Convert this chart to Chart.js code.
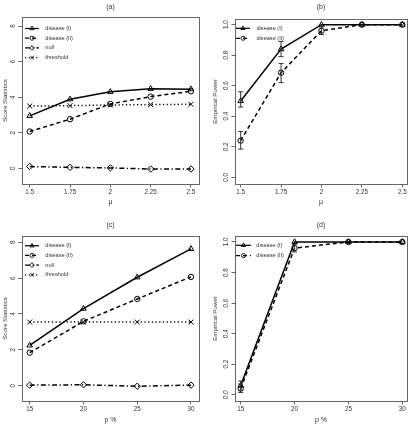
<!DOCTYPE html>
<html><head><meta charset="utf-8">
<script src="https://cdn.jsdelivr.net/npm/chart.js@4.4.1/dist/chart.umd.min.js"></script>
<style>
html,body{margin:0;padding:0;background:#fff;}
#wrap{position:relative;width:413px;height:426px;overflow:hidden;background:#fff;}
canvas{position:absolute;display:block;}
</style></head><body>
<div id="wrap">
<canvas id="ca" width="206" height="213" style="left:0;top:0"></canvas>
<canvas id="cb" width="207" height="213" style="left:206px;top:0"></canvas>
<canvas id="cc" width="206" height="213" style="left:0;top:213px"></canvas>
<canvas id="cd" width="207" height="213" style="left:206px;top:213px"></canvas>
</div>
<script>
// ---------- data ----------
const muValues = [1.5, 1.75, 2, 2.25, 2.5];
const muTickLabels = ["1.5", "1.75", "2", "2.25", "2.5"];
const pValues = [15, 20, 25, 30];
const pTickLabels = ["15", "20", "25", "30"];
const scoreTicks = [0, 2, 4, 6, 8];
const scoreTickLabels = ["0", "2", "4", "6", "8"];
const powerTicks = [0, 0.2, 0.4, 0.6, 0.8, 1.0];
const powerTickLabels = ["0.0", "0.2", "0.4", "0.6", "0.8", "1.0"];
const seriesNames = ["disease (I)", "disease (II)", "null", "threshold"];

// panel (a): score statistics vs mu
const aDisease1 = [2.95, 3.88, 4.30, 4.47, 4.45];
const aDisease2 = [2.07, 2.76, 3.62, 4.03, 4.33];
const aNull = [0.10, 0.05, 0.02, -0.04, -0.04];
const aThreshold = [3.50, 3.52, 3.56, 3.58, 3.60];

// panel (b): empirical power vs mu (with intervals)
const bDisease1 = [0.50, 0.84, 1.00, 1.00, 1.00];
const bDisease1Lo = [0.46, 0.79, 1.00, 1.00, 1.00];
const bDisease1Hi = [0.56, 0.89, 1.00, 1.00, 1.00];
const bDisease2 = [0.24, 0.685, 0.96, 1.00, 1.00];
const bDisease2Lo = [0.185, 0.62, 0.935, 1.00, 1.00];
const bDisease2Hi = [0.30, 0.745, 0.985, 1.00, 1.00];

// panel (c): score statistics vs p %
const cDisease1 = [2.25, 4.30, 6.05, 7.63];
const cDisease2 = [1.84, 3.59, 4.84, 6.07];
const cNull = [0.03, 0.05, -0.03, 0.03];
const cThreshold = [3.55, 3.55, 3.55, 3.55];

// panel (d): empirical power vs p %
const dDisease1 = [0.06, 1.00, 1.00, 1.00];
const dDisease1Lo = [0.03, 1.00, 1.00, 1.00];
const dDisease1Hi = [0.09, 1.00, 1.00, 1.00];
const dDisease2 = [0.04, 0.96, 1.00, 1.00];
const dDisease2Lo = [0.015, 0.935, 1.00, 1.00];
const dDisease2Hi = [0.07, 0.985, 1.00, 1.00];

// ---------- styling ----------
const FONT = "'Liberation Sans', Arial, Helvetica, sans-serif";
const TEXT = '#333';
const AXIS = '#666';
const LINE = '#000';
const styles = [
  {borderDash: [], pointStyle: 'triangle', pointRadius: 3.2},
  {borderDash: [4, 3], pointStyle: 'circle', pointRadius: 2.7},
  {borderDash: [5, 2.5, 1.2, 2.5], pointStyle: 'rectRot', pointRadius: 3.2},
  {borderDash: [1.2, 2.5], pointStyle: 'crossRot', pointRadius: 3.5}
];

function series(k, xs, ys, lo, hi) {
  const s = styles[k];
  return {
    label: seriesNames[k],
    data: xs.map((x, i) => ({x: x, y: ys[i]})),
    borderColor: LINE, borderWidth: 1.5, borderDash: s.borderDash,
    pointStyle: s.pointStyle, pointRadius: s.pointRadius,
    pointBorderColor: LINE, pointBackgroundColor: 'rgba(0,0,0,0)', pointBorderWidth: 1,
    tension: 0, fill: false,
    errLo: lo, errHi: hi
  };
}

function drawMarker(ctx, style, x, y, r) {
  ctx.beginPath();
  if (style === 'triangle') {
    ctx.moveTo(x, y - r);
    ctx.lineTo(x + r * Math.sin(2 * Math.PI / 3), y + r * 0.5);
    ctx.lineTo(x - r * Math.sin(2 * Math.PI / 3), y + r * 0.5);
    ctx.closePath();
  } else if (style === 'circle') {
    ctx.arc(x, y, r, 0, Math.PI * 2);
  } else if (style === 'rectRot') {
    ctx.moveTo(x, y - r); ctx.lineTo(x + r, y); ctx.lineTo(x, y + r); ctx.lineTo(x - r, y); ctx.closePath();
  } else if (style === 'crossRot') {
    const d = r * Math.SQRT1_2;
    ctx.moveTo(x - d, y - d); ctx.lineTo(x + d, y + d);
    ctx.moveTo(x + d, y - d); ctx.lineTo(x - d, y + d);
  }
  ctx.stroke();
}

const rPlugin = {
  id: 'rdeco',
  afterDatasetsDraw(chart, args, o) {
    const ctx = chart.ctx, xs = chart.scales.x, ys = chart.scales.y;
    ctx.save();
    ctx.strokeStyle = '#333'; ctx.lineWidth = 1; ctx.setLineDash([]);
    const cap = 2.5;
    chart.data.datasets.forEach(ds => {
      if (!ds.errLo) return;
      ds.data.forEach((p, i) => {
        const lo = ds.errLo[i], hi = ds.errHi[i];
        if (hi - lo < 0.001) return;
        const px = xs.getPixelForValue(p.x), pl = ys.getPixelForValue(lo), ph = ys.getPixelForValue(hi);
        ctx.beginPath();
        ctx.moveTo(px, pl); ctx.lineTo(px, ph);
        ctx.moveTo(px - cap, pl); ctx.lineTo(px + cap, pl);
        ctx.moveTo(px - cap, ph); ctx.lineTo(px + cap, ph);
        ctx.stroke();
      });
    });
    ctx.restore();
  },
  afterDraw(chart, args, o) {
    const ctx = chart.ctx, a = chart.chartArea;
    ctx.save();
    // box
    const al = v => Math.round(v - 0.5) + 0.5;
    ctx.strokeStyle = AXIS; ctx.lineWidth = 1; ctx.setLineDash([]);
    ctx.strokeRect(al(a.left), al(a.top), al(a.right) - al(a.left), al(a.bottom) - al(a.top));
    // title
    ctx.fillStyle = TEXT;
    ctx.font = '7px ' + FONT;
    ctx.textAlign = 'center'; ctx.textBaseline = 'middle';
    ctx.fillText(o.title, (a.left + a.right) / 2, o.titleY);
    // legend
    const L = o.legend;
    chart.data.datasets.forEach((ds, k) => {
      const y = L.y + k * L.dy;
      ctx.strokeStyle = LINE; ctx.lineWidth = 1.2; ctx.setLineDash(ds.borderDash || []);
      ctx.beginPath(); ctx.moveTo(L.x0, y); ctx.lineTo(L.x1, y); ctx.stroke();
      ctx.setLineDash([]); ctx.lineWidth = 0.9;
      drawMarker(ctx, ds.pointStyle, (L.x0 + L.x1) / 2, y, ds.pointRadius * 0.75);
      ctx.fillStyle = TEXT; ctx.font = '5.6px ' + FONT;
      ctx.textAlign = 'left'; ctx.textBaseline = 'middle';
      ctx.fillText(ds.label, L.tx, y);
    });
    ctx.restore();
  }
};

function makeChart(id, c) {
  const canvas = document.getElementById(id);
  const W = canvas.width, H = canvas.height;
  const tickFont = {family: FONT, size: 6.3};
  const titleFont = {family: FONT, size: 6.2};
  new Chart(canvas, {
    type: 'line',
    data: {datasets: c.datasets},
    options: {
      responsive: false, animation: false, devicePixelRatio: 1,
      layout: {padding: {left: 0, top: c.box.T, right: W - c.box.R, bottom: 0}},
      plugins: {
        legend: {display: false}, tooltip: {enabled: false}, title: {display: false},
        rdeco: {title: c.title, titleY: c.titleY, legend: c.legend}
      },
      scales: {
        x: {
          type: 'linear', min: c.xmin, max: c.xmax,
          afterFit: s => { s.height = H - c.box.B; },
          afterBuildTicks: s => { s.ticks = c.xTicks.map(v => ({value: v})); },
          ticks: {
            callback: v => c.xLabels[c.xTicks.indexOf(v)],
            font: tickFont, color: TEXT, padding: 0.5, autoSkip: false, minRotation: 0, maxRotation: 0
          },
          grid: {display: true, drawOnChartArea: false, drawTicks: true, tickLength: 3.5, color: AXIS, lineWidth: 1},
          border: {display: true, color: AXIS, width: 1},
          title: {display: true, text: c.xTitle, font: {family: FONT, size: 7}, color: TEXT, padding: {top: 0, bottom: c.xTitlePad}}
        },
        y: {
          type: 'linear', min: c.ymin, max: c.ymax,
          afterFit: s => { s.width = c.box.L; },
          afterBuildTicks: s => { s.ticks = c.yTicks.map(v => ({value: v})); },
          ticks: {
            callback: v => c.yLabels[c.yTicks.indexOf(v)],
            font: tickFont, color: TEXT, padding: c.yTickPad, autoSkip: false,
            minRotation: 90, maxRotation: 90, crossAlign: 'center'
          },
          grid: {display: true, drawOnChartArea: false, drawTicks: true, tickLength: 3.5, color: AXIS, lineWidth: 1},
          border: {display: true, color: AXIS, width: 1},
          title: {display: true, text: c.yTitle, font: titleFont, color: TEXT, padding: {top: c.yTitlePad, bottom: 0}}
        }
      }
    },
    plugins: [rPlugin]
  });
}

makeChart('ca', {
  title: '(a)', titleY: 6.7,
  box: {L: 22, R: 199, T: 17, B: 184},
  xmin: 1.452, xmax: 2.550, ymin: -0.883, ymax: 8.506,
  xTicks: muValues, xLabels: muTickLabels, yTicks: scoreTicks, yLabels: scoreTickLabels,
  xTitle: 'μ', xTitlePad: 7, yTitle: 'Score Statistics', yTitlePad: 1.3, yTickPad: 3.7,
  legend: {x0: 25, x1: 39, tx: 45.3, y: 28.5, dy: 9.7},
  datasets: [series(0, muValues, aDisease1), series(1, muValues, aDisease2), series(2, muValues, aNull), series(3, muValues, aThreshold)]
});

makeChart('cb', {
  title: '(b)', titleY: 6.7,
  box: {L: 29, R: 201, T: 19, B: 184},
  xmin: 1.465, xmax: 2.529, ymin: -0.044, ymax: 1.037,
  xTicks: muValues, xLabels: muTickLabels, yTicks: powerTicks, yLabels: powerTickLabels,
  xTitle: 'μ', xTitlePad: 7, yTitle: 'Empirical Power', yTitlePad: 6, yTickPad: 0.5,
  legend: {x0: 30, x1: 44, tx: 50.5, y: 28.3, dy: 10},
  datasets: [series(0, muValues, bDisease1, bDisease1Lo, bDisease1Hi), series(1, muValues, bDisease2, bDisease2Lo, bDisease2Hi)]
});

makeChart('cc', {
  title: '(c)', titleY: 12,
  box: {L: 22, R: 199, T: 23, B: 188},
  xmin: 14.284, xmax: 30.744, ymin: -0.854, ymax: 8.351,
  xTicks: pValues, xLabels: pTickLabels, yTicks: scoreTicks, yLabels: scoreTickLabels,
  xTitle: 'p %', xTitlePad: 2, yTitle: 'Score Statistics', yTitlePad: 1.3, yTickPad: 3.7,
  legend: {x0: 25, x1: 39, tx: 45.3, y: 32.7, dy: 9.7},
  datasets: [series(0, pValues, cDisease1), series(1, pValues, cDisease2), series(2, pValues, cNull), series(3, pValues, cThreshold)]
});

makeChart('cd', {
  title: '(d)', titleY: 11.7,
  box: {L: 29, R: 201, T: 23, B: 188},
  xmin: 14.471, xmax: 30.436, ymin: -0.041, ymax: 1.039,
  xTicks: pValues, xLabels: pTickLabels, yTicks: powerTicks, yLabels: powerTickLabels,
  xTitle: 'p %', xTitlePad: 2, yTitle: 'Empirical Power', yTitlePad: 6, yTickPad: 0.5,
  legend: {x0: 30, x1: 45, tx: 50.3, y: 32.3, dy: 10.3},
  datasets: [series(0, pValues, dDisease1, dDisease1Lo, dDisease1Hi), series(1, pValues, dDisease2, dDisease2Lo, dDisease2Hi)]
});
</script>
</body></html>
